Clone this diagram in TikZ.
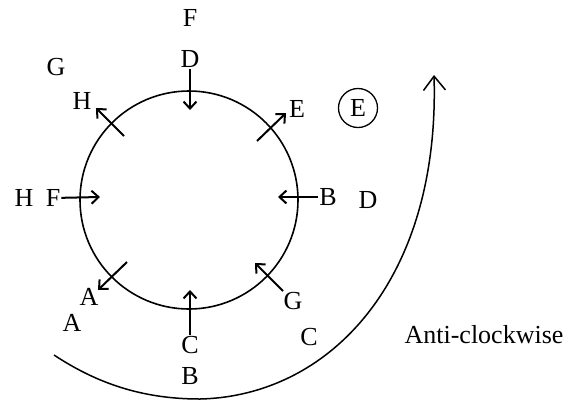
\documentclass[tikz,border=0pt]{standalone}
\usepackage{fontspec}
\setmainfont{Liberation Serif}
\usetikzlibrary{arrows.meta}

\begin{document}
\begin{tikzpicture}[
  x=1pt, y=-1pt,
  lbl/.style={inner sep=1pt, font=\fontsize{26}{30}\selectfont},
  arr/.style={-{Straight Barb[length=7pt,width=13pt]}, line width=2pt},
  big/.style={-{Straight Barb[length=14pt,width=22pt]}, line width=1.5pt}
]
\useasboundingbox (0,0) rectangle (580,400);
\node[circle, draw, line width=1.6pt, minimum size=218pt, inner sep=0pt] (wheel) at (189,200) {};
% outer labels
\node[lbl] (fTop) at (190,18) {F};
\node[lbl] (dTop) at (190,59) {D};
\node[lbl] (gTL) at (56,67) {G};
\node[lbl] (hTL) at (82,101) {H};
\node[lbl] (eTR) at (297,109) {E};
\node[lbl, circle, draw, line width=1.3pt, minimum size=39pt, inner sep=0pt] (eRing) at (358,108) {E};
\node[lbl] (hL) at (24,198) {H};
\node[lbl] (fL) at (53,198) {F};
\node[lbl] (bR) at (328,197) {B};
\node[lbl] (dR) at (368,200) {D};
\node[lbl] (aBL) at (89,297) {A};
\node[lbl] (aBL2) at (72,323) {A};
\node[lbl] (cBot) at (190,345) {C};
\node[lbl] (bBot) at (190,376) {B};
\node[lbl] (gBR) at (293,301) {G};
\node[lbl] (cBR) at (309,337) {C};
\node[lbl, anchor=base] (sense) at (484,343) {Anti-clockwise};
% arrow ends
\coordinate (dIn) at (190,110);
\coordinate (hIn) at (124,136);
\coordinate (hOut) at (96,108);
\coordinate (eIn) at (257,141);
\coordinate (eOut) at (286,113);
\coordinate (fIn) at (100,197);
\coordinate (bIn) at (278,197);
\coordinate (aIn) at (127,262);
\coordinate (aOut) at (98,290);
\coordinate (cIn) at (190,290);
\coordinate (gIn) at (255,263);
\coordinate (gOut) at (283,291);
\draw[arr] (dTop) -- (dIn);
\draw[arr] (hIn) -- (hOut);
\draw[arr] (eIn) -- (eOut);
\draw[arr] (fL) -- (fIn);
\draw[arr] (bR) -- (bIn);
\draw[arr] (aIn) -- (aOut);
\draw[arr] (cBot) -- (cIn);
\draw[arr] (gOut) -- (gIn);
% sweep
\coordinate (sweepA) at (54,355);
\coordinate (sweepB) at (200,399);
\coordinate (sweepC) at (434,75);
\draw[big] (sweepA) .. controls (95,382) and (140,399) .. (sweepB)
  .. controls (330,396) and (440,280) .. (sweepC);
\end{tikzpicture}
\end{document}
